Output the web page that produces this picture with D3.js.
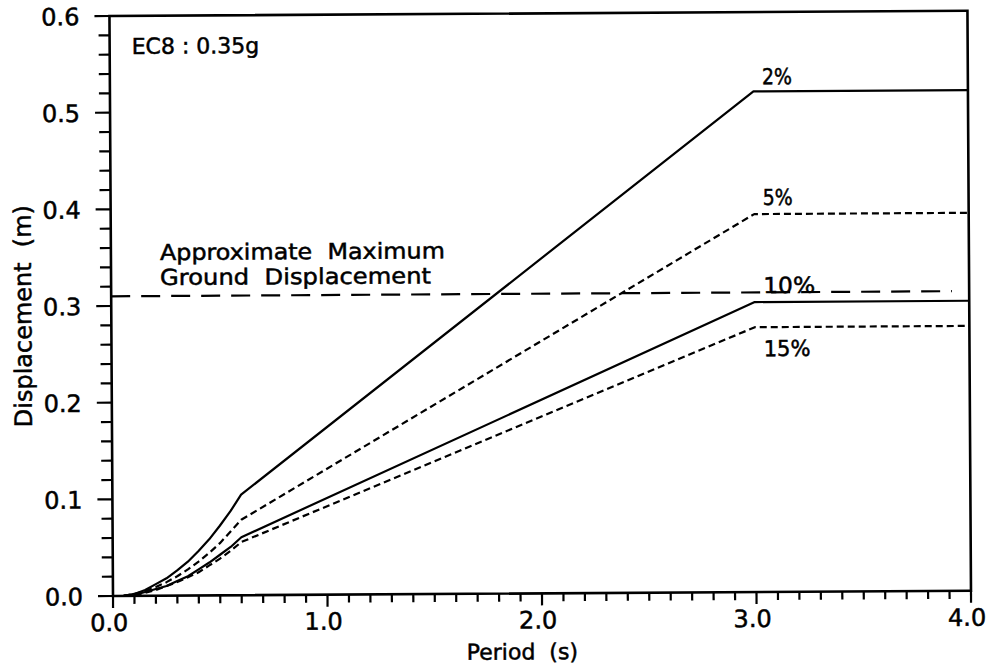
<!DOCTYPE html>
<html>
<head>
<meta charset="utf-8">
<script src="https://cdn.jsdelivr.net/npm/d3@7/dist/d3.min.js"></script>
<style>
  html, body { margin: 0; padding: 0; background: #fff; }
  svg { display: block; }
  text { font-family: "DejaVu Sans", sans-serif; fill: #000; stroke: #000; stroke-width: 0.5px; white-space: pre; }
</style>
</head>
<body>
<svg id="chart" width="990" height="668"></svg>
<script>
// Displacement response spectra, EC8 with ag = 0.35g, for four damping ratios
const periods = [0.05, 0.10, 0.15, 0.20, 0.25, 0.30, 0.35, 0.40, 0.45, 0.50, 0.55, 0.60, 3.0, 4.0];
const disp2  = [0.000, 0.002, 0.006, 0.012, 0.018, 0.026, 0.035, 0.046, 0.058, 0.072, 0.087, 0.104, 0.518, 0.518];
const disp5  = [0.000, 0.002, 0.005, 0.009, 0.014, 0.020, 0.027, 0.035, 0.044, 0.054, 0.066, 0.078, 0.391, 0.391];
const disp10 = [0.000, 0.001, 0.004, 0.007, 0.010, 0.015, 0.020, 0.027, 0.034, 0.042, 0.050, 0.060, 0.300, 0.300];
const disp15 = [0.000, 0.001, 0.003, 0.006, 0.010, 0.014, 0.019, 0.024, 0.031, 0.038, 0.046, 0.055, 0.274, 0.274];
const seriesNames = ["2%", "5%", "10%", "15%"];
const groundDisp = 0.31;
const groundEnd = 3.92;
const groundLabel = ["Approximate  Maximum", "Ground  Displacement"];
const xTicks = [0, 1, 2, 3, 4];
const yTicks = [0, 0.1, 0.2, 0.3, 0.4, 0.5, 0.6];
const title = "EC8 : 0.35g";

const svg = d3.select("#chart");
const margin = { left: 113, top: 16 };
const W = 858, H = 580;

// slight rotation of the whole sheet
const root = svg.append("g")
  .attr("transform", `rotate(-0.35, ${margin.left}, ${margin.top + H}) translate(${margin.left},${margin.top})`);

const x = d3.scaleLinear().domain([0, 4]).range([0, W]);
const y = d3.scaleLinear().domain([0, 0.6]).range([H, 0]);

// frame
root.append("rect").attr("x", 0).attr("y", 0).attr("width", W).attr("height", H)
  .attr("fill", "none").attr("stroke", "#000").attr("stroke-width", 2.6);

// x axis ticks (outward), minor every 0.1
const xMinor = d3.range(0, 41).map(i => i / 10);
root.append("g").selectAll("line").data(xMinor).join("line")
  .attr("x1", d => x(d)).attr("x2", d => x(d))
  .attr("y1", H).attr("y2", (d, i) => H + (i % 10 === 0 ? 12 : 8))
  .attr("stroke", "#000").attr("stroke-width", 2.2);
root.append("g").selectAll("text").data(xTicks).join("text")
  .attr("x", d => x(d) - 4).attr("y", H + 35)
  .attr("text-anchor", "middle").attr("font-size", 24)
  .text(d => d3.format(".1f")(d));

// y axis ticks (outward), minor every 0.02
const yMinor = d3.range(0, 31).map(i => i / 50);
root.append("g").selectAll("line").data(yMinor).join("line")
  .attr("x1", 0).attr("x2", (d, i) => -(i % 5 === 0 ? 15 : 11))
  .attr("y1", d => y(d)).attr("y2", d => y(d))
  .attr("stroke", "#000").attr("stroke-width", 2.2);
root.append("g").selectAll("text").data(yTicks).join("text")
  .attr("x", -30).attr("y", d => y(d) + 9)
  .attr("text-anchor", "end").attr("font-size", 24)
  .text(d => d3.format(".1f")(d));

// axis titles
root.append("text").attr("x", x(2) - 20).attr("y", H + 66)
  .attr("text-anchor", "middle").attr("font-size", 22).text("Period  (s)");
root.append("text")
  .attr("transform", `translate(${-80},${y(0.29)}) rotate(-90)`)
  .attr("text-anchor", "middle").attr("font-size", 24)
  .attr("textLength", 222).attr("lengthAdjust", "spacingAndGlyphs")
  .text("Displacement  (m)");

// title
root.append("text").attr("x", 22).attr("y", 38).attr("font-size", 22).text(title);

// ground displacement
root.append("line")
  .attr("x1", 0).attr("x2", x(groundEnd)).attr("y1", y(groundDisp)).attr("y2", y(groundDisp))
  .attr("stroke", "#000").attr("stroke-width", 2.2).attr("stroke-dasharray", "19,11");
const groundLen = [285, 271];
root.append("g").selectAll("text").data(groundLabel).join("text")
  .attr("x", 49).attr("y", (d, i) => y(groundDisp) - 36 + i * 25)
  .attr("font-size", 22)
  .attr("textLength", (d, i) => groundLen[i]).attr("lengthAdjust", "spacingAndGlyphs")
  .text(d => d);

// spectra
const allSeries = [disp2, disp5, disp10, disp15];
const dashes = [null, "7,4", null, "7,4"];
const line = d3.line().x(d => x(d[0])).y(d => y(d[1]));
allSeries.forEach((vals, k) => {
  const pts = periods.map((p, i) => [p, vals[i]]);
  root.append("path").datum(pts).attr("d", line)
    .attr("fill", "none").attr("stroke", "#000").attr("stroke-width", 2.2)
    .attr("stroke-linejoin", "round")
    .attr("stroke-dasharray", dashes[k]);
});

// curve labels
const labelDy = [-7, -9, -9, 29];
const labelLen = [30, 30, 52, 47];
root.append("g").selectAll("text").data(seriesNames).join("text")
  .attr("x", x(3.04)).attr("y", (d, i) => y(allSeries[i][periods.length - 1]) + labelDy[i])
  .attr("font-size", 22)
  .attr("textLength", (d, i) => labelLen[i]).attr("lengthAdjust", "spacingAndGlyphs")
  .text(d => d);
</script>
</body>
</html>
